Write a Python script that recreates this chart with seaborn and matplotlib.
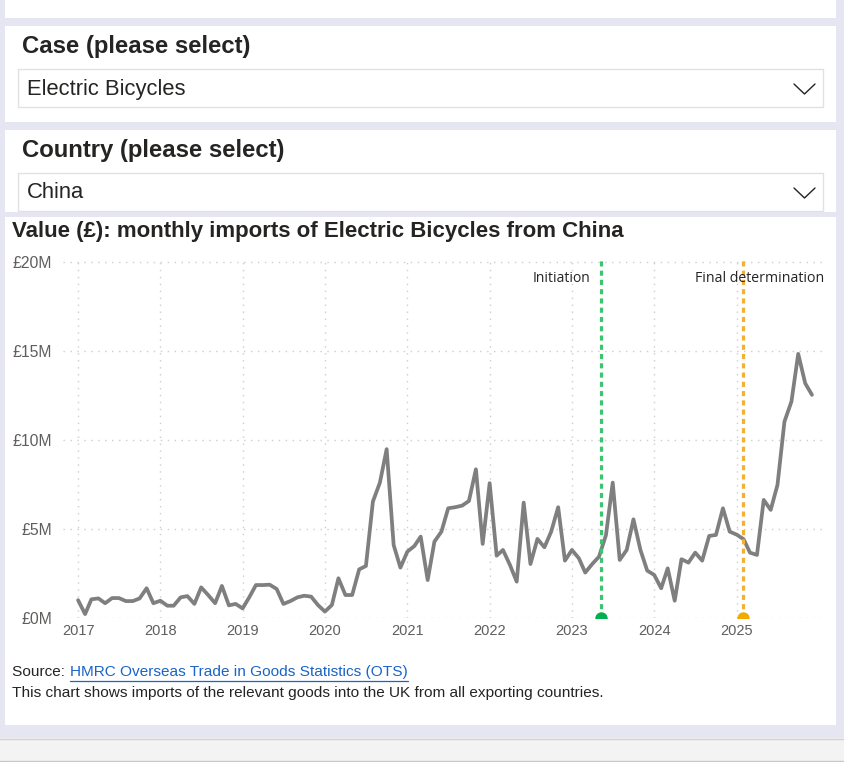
import matplotlib
matplotlib.use("Agg")
import matplotlib.pyplot as plt
import matplotlib.ticker as mticker
import matplotlib.dates as mdates
from matplotlib.patches import Rectangle
import pandas as pd
import seaborn as sns

# Data (£ millions per month)
case_name = "Electric Bicycles"
country = "China"
first_month = "2017-01"
last_month = "2025-12"
values_m = [
    1.00, 0.22, 1.05, 1.10, 0.83, 1.12, 1.12, 0.95, 0.95, 1.10, 1.67, 0.83,   # 2017
    0.97, 0.69, 0.69, 1.16, 1.23, 0.79, 1.72, 1.29, 0.83, 1.80, 0.71, 0.79,   # 2018
    0.54, 1.20, 1.85, 1.85, 1.87, 1.63, 0.79, 0.95, 1.16, 1.25, 1.20, 0.73,   # 2019
    0.36, 0.73, 2.23, 1.29, 1.29, 2.73, 2.92, 6.54, 7.60, 9.48, 4.10, 2.83,   # 2020
    3.73, 4.04, 4.57, 2.13, 4.29, 4.85, 6.16, 6.22, 6.31, 6.57, 8.35, 4.16,   # 2021
    7.57, 3.50, 3.82, 2.98, 2.04, 6.48, 3.03, 4.44, 3.97, 4.85, 6.22, 3.22,   # 2022
    3.82, 3.35, 2.55, 3.03, 3.44, 4.65, 7.60, 3.26, 3.82, 5.54, 3.82, 2.66,   # 2023
    2.42, 1.67, 2.79, 0.97, 3.30, 3.11, 3.67, 3.22, 4.61, 4.66, 6.16, 4.85,   # 2024
    4.68, 4.42, 3.67, 3.54, 6.63, 6.07, 7.47, 11.03, 12.15, 14.83, 13.18, 12.53,  # 2025
]
event_labels = ["Initiation", "Final determination"]
event_dates = ["2023-05-12", "2025-01-28"]
year_ticks = ["2017", "2018", "2019", "2020", "2021", "2022", "2023", "2024", "2025"]
y_ticks_m = [0, 5, 10, 15, 20]

df = pd.DataFrame({
    "month": pd.date_range(first_month, last_month, freq="MS"),
    "value": [v * 1e6 for v in values_m],
})

# Style
sns.set_style("white")
plt.rcParams["font.family"] = ["Liberation Sans", "DejaVu Sans"]

W, H = 844, 762
fig = plt.figure(figsize=(W / 100, H / 100), dpi=100)
fig.patch.set_facecolor("#E6E6F2")

# Page background drawn in pixel coordinates
bg = fig.add_axes([0, 0, 1, 1], zorder=0)
bg.set_xlim(0, W)
bg.set_ylim(H, 0)
bg.axis("off")

def panel(x0, y0, x1, y1, fc="white", ec="none", lw=0):
    bg.add_patch(Rectangle((x0, y0), x1 - x0, y1 - y0, facecolor=fc, edgecolor=ec, linewidth=lw))

panel(5, 0, 836, 18)
panel(5, 26, 836, 122)
panel(5, 130, 836, 212)
panel(5, 217, 836, 725)
panel(0, 738, W, 762, fc="#F3F3F3")
bg.plot([0, W], [738.5, 738.5], color="#D2D2D2", lw=1)
bg.plot([0, W], [760.5, 760.5], color="#C8C8C8", lw=1)

# Slicer boxes
panel(18, 69, 823, 107, fc="white", ec="#E1E1E1", lw=1)
panel(18, 173, 823, 211, fc="white", ec="#E1E1E1", lw=1)
for cy in (89, 193):
    bg.plot([794, 804.5, 815], [cy - 5, cy + 5, cy - 5], color="#252423", lw=1.0)

bg.text(22, 46, "Case (please select)", fontsize=17.2, fontweight="bold", color="#252423", va="center")
bg.text(27, 89, case_name, fontsize=15.8, color="#252423", va="center")
bg.text(22, 150, "Country (please select)", fontsize=17.2, fontweight="bold", color="#252423", va="center")
bg.text(27, 193, country, fontsize=15.8, color="#252423", va="center")

bg.text(12, 232, f"Value (£): monthly imports of {case_name} from {country}",
        fontsize=16, fontweight="bold", color="#252423", va="center")

src = bg.text(12, 672, "Source: ", fontsize=11.1, color="#252423", va="center")
fig.canvas.draw()
sb = src.get_window_extent()
link = bg.text(sb.x1 + 1, 672, "HMRC Overseas Trade in Goods Statistics (OTS)", fontsize=11.1,
               color="#1A64C8", va="center")
bg.text(12, 693, "This chart shows imports of the relevant goods into the UK from all exporting countries.",
        fontsize=11.1, color="#252423", va="center")
fig.canvas.draw()
bb = link.get_window_extent()
bg.plot([bb.x0, bb.x1], [681, 681], color="#1A64C8", lw=0.9)

# Chart axes
ax_l, ax_r, ax_t, ax_b = 63, 823, 260, 618
ax = fig.add_axes([ax_l / W, 1 - ax_b / H, (ax_r - ax_l) / W, (ax_b - ax_t) / H], zorder=2)
ax.set_facecolor("none")

sns.lineplot(data=df, x="month", y="value", ax=ax, color="#7F7F7F", linewidth=2.7, zorder=3)

x0 = df["month"].iloc[0] - pd.Timedelta(days=67)
x1 = df["month"].iloc[-1] + pd.Timedelta(days=49)
ax.set_xlim(x0, x1)
ax.set_ylim(0, 20.1e6)

ax.set_xticks([pd.Timestamp(y + "-01-01") for y in year_ticks])
ax.xaxis.set_major_formatter(mdates.DateFormatter("%Y"))
ax.set_yticks([v * 1e6 for v in y_ticks_m])
ax.yaxis.set_major_formatter(mticker.FuncFormatter(lambda v, p: f"£{v / 1e6:.0f}M"))
ax.tick_params(axis="both", length=0, colors="#605E5C")
ax.tick_params(axis="x", labelsize=10.5, pad=4)
ax.tick_params(axis="y", labelsize=11.3, pad=8)
ax.grid(True, linestyle=(0, (1, 4)), color="#CDCDCD", linewidth=1)
for s in ax.spines.values():
    s.set_visible(False)
ax.set_xlabel("")
ax.set_ylabel("")

line_colors = ["#3DC46E", "#F2B134"]
dot_colors = ["#00B050", "#F2A900"]
for lab, d, lc, dc in zip(event_labels, event_dates, line_colors, dot_colors):
    d = pd.Timestamp(d)
    ax.axvline(d, color=lc, linewidth=2.3, linestyle=(0, (1.6, 1.3)), zorder=4)
    ax.scatter([d], [0], s=80, color=dc, zorder=5, clip_on=True, linewidths=0)

ax.annotate(event_labels[0], xy=(pd.Timestamp(event_dates[0]), 1), xycoords=("data", "axes fraction"),
            xytext=(-8, -13.5), textcoords="offset points", ha="right", va="center",
            fontsize=10, color="#252423", family=["Open Sans", "DejaVu Sans"])
ax.text(1.001, 1 - 18.5 / (ax_b - ax_t), event_labels[1], transform=ax.transAxes, ha="right", va="center",
        fontsize=10.2, color="#252423", family=["Open Sans", "DejaVu Sans"], zorder=6)

fig.savefig("out.png", dpi=100)
